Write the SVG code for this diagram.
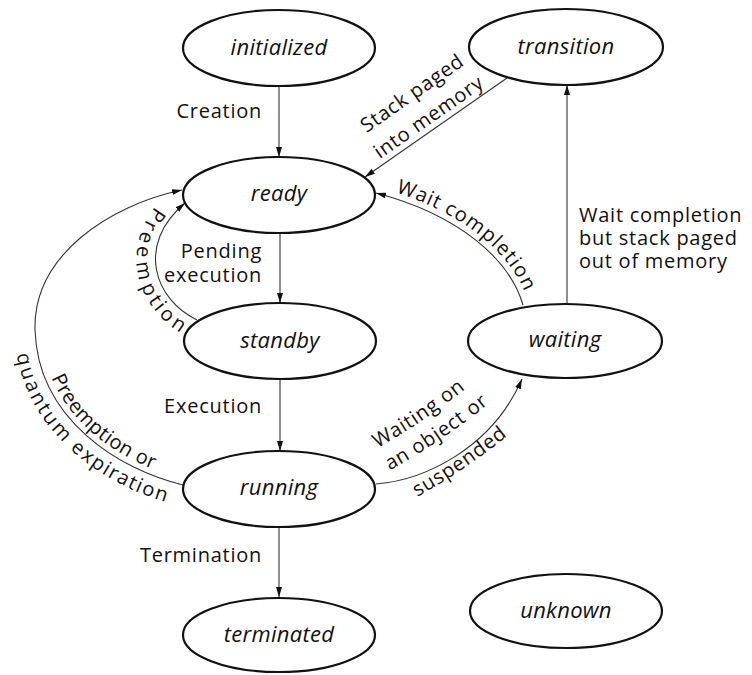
<svg xmlns="http://www.w3.org/2000/svg" width="752" height="675" viewBox="0 0 752 675">
<style>
  .node ellipse { fill: #fff; stroke: #111; stroke-width: 2.2; }
  .node text { font-family: "Open Sans", "Noto Sans", sans-serif; font-style: italic; font-size: 22px; letter-spacing: 0.3px; fill: #111; text-anchor: middle; }
  .edge { fill: none; stroke: #333; stroke-width: 1.1; marker-end: url(#arrow); }
  .lbl { font-family: "Open Sans", "Noto Sans", sans-serif; font-size: 20px; letter-spacing: 0.75px; fill: #111; }
  .end { text-anchor: end; }
</style>
<defs>
  <marker id="arrow" viewBox="0 0 10 6" refX="10" refY="3" markerWidth="10" markerHeight="6" markerUnits="userSpaceOnUse" orient="auto">
    <path d="M0,0 L10,3 L0,6 z" fill="#111"/>
  </marker>
  <path id="tp-stack" d="M365,177 L507,78"/>
  <path id="tp-waitc" d="M376,193 C460,215 510,260 523,305"/>
  <path id="tp-preempt" d="M185,203 C135,245 155,300 197,320"/>
  <path id="tp-quantum" d="M35,330 C38,420 120,470 183,485"/>
  <path id="tp-w1" d="M344,466 Q425,426 495,364"/>
  <path id="tp-w2" d="M362,485 Q443,445 513,383"/>
  <path id="tp-w3" d="M385,514 Q466,474 536,412"/>
</defs>
<rect width="752" height="675" fill="#fff"/>
<g id="connectors">
  <line class="edge" x1="279" y1="86" x2="279" y2="157"/>
  <line class="edge" x1="280" y1="233" x2="280" y2="303"/>
  <line class="edge" x1="280" y1="379" x2="280" y2="451"/>
  <line class="edge" x1="279" y1="527" x2="279" y2="597"/>
  <line class="edge" x1="567" y1="303" x2="567" y2="85"/>
  <line class="edge" x1="507" y1="78" x2="365" y2="177"/>
  <path class="edge" d="M523,305 C510,260 460,215 376,193"/>
  <path class="edge" d="M376,484 C425,480 492,448 522,379"/>
  <path class="edge" d="M197,320 C155,300 135,245 185,203"/>
  <path class="edge" d="M183,485 C120,470 38,420 35,330 C33,255 110,205 182,190"/>
</g>
<g id="labels">
  <text class="lbl end" x="262" y="118">Creation</text>
  <text class="lbl end" x="262" y="258">Pending</text>
  <text class="lbl end" x="262" y="282">execution</text>
  <text class="lbl end" x="262" y="413">Execution</text>
  <text class="lbl end" x="262" y="562">Termination</text>
  <text class="lbl" x="579" y="222">Wait completion</text>
  <text class="lbl" x="579" y="245">but stack paged</text>
  <text class="lbl" x="579" y="268">out of memory</text>
  <text class="lbl" dy="-35"><textPath href="#tp-stack" startOffset="50%" text-anchor="middle">Stack paged</textPath></text>
  <text class="lbl" dy="-6"><textPath href="#tp-stack" startOffset="50%" text-anchor="middle">into memory</textPath></text>
  <text class="lbl" dy="-6"><textPath href="#tp-waitc" startOffset="52%" text-anchor="middle">Wait completion</textPath></text>
  <text class="lbl" dy="19"><textPath href="#tp-preempt" startOffset="55%" text-anchor="middle">Preemption</textPath></text>
  <text class="lbl" dy="-6"><textPath href="#tp-quantum" startOffset="54%" text-anchor="middle">Preemption or</textPath></text>
  <text class="lbl" dy="21"><textPath href="#tp-quantum" startOffset="52%" text-anchor="middle">quantum expiration</textPath></text>
  <text class="lbl"><textPath href="#tp-w1" startOffset="50%" text-anchor="middle">Waiting on</textPath></text>
  <text class="lbl"><textPath href="#tp-w2" startOffset="50%" text-anchor="middle">an object or</textPath></text>
  <text class="lbl"><textPath href="#tp-w3" startOffset="50%" text-anchor="middle">suspended</textPath></text>
</g>
<g id="initialized" class="node"><ellipse cx="279" cy="48" rx="96" ry="38"/><text x="279" y="55">initialized</text></g>
<g id="transition" class="node"><ellipse cx="566" cy="47" rx="97" ry="38"/><text x="566" y="54">transition</text></g>
<g id="ready" class="node"><ellipse cx="279" cy="195" rx="96" ry="38"/><text x="279" y="201">ready</text></g>
<g id="standby" class="node"><ellipse cx="280" cy="341" rx="96" ry="38"/><text x="280" y="348">standby</text></g>
<g id="waiting" class="node"><ellipse cx="565" cy="341" rx="97" ry="37"/><text x="565" y="347">waiting</text></g>
<g id="running" class="node"><ellipse cx="279" cy="489" rx="96" ry="38"/><text x="279" y="495">running</text></g>
<g id="terminated" class="node"><ellipse cx="279" cy="635" rx="96" ry="37"/><text x="279" y="642">terminated</text></g>
<g id="unknown" class="node"><ellipse cx="566" cy="611" rx="96" ry="37"/><text x="566" y="618">unknown</text></g>
</svg>
